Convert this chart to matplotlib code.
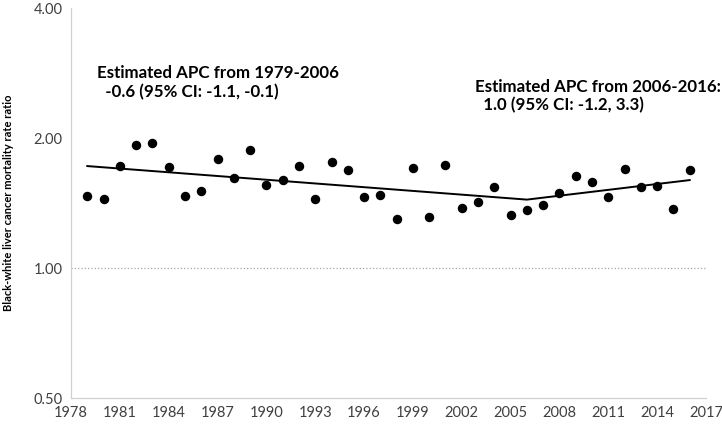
import matplotlib
matplotlib.use('Agg')
from matplotlib import pyplot as plt
from matplotlib.ticker import FixedLocator, NullLocator

years = list(range(1979, 2017))
ratios = [1.468, 1.448, 1.726, 1.925, 1.951, 1.713, 1.468, 1.511, 1.790, 1.619,
          1.875, 1.560, 1.601, 1.722, 1.448, 1.762, 1.683, 1.460, 1.479, 1.297,
          1.701, 1.311, 1.734, 1.378, 1.420, 1.540, 1.327, 1.359, 1.398, 1.490,
          1.630, 1.581, 1.460, 1.692, 1.540, 1.551, 1.368, 1.683]

# joinpoint fitted trend
joint_years = [1979, 2006, 2016]
joint_values = [1.722, 1.440, 1.598]

x_ticks = list(range(1978, 2018, 3))
y_ticks = [0.5, 1.0, 2.0, 4.0]

plt.rcParams['font.family'] = ['Lato', 'DejaVu Sans']

fig = plt.figure(figsize=(7.22, 4.24), dpi=100)
ax = fig.add_axes((71 / 722, 26 / 424, 635 / 722, 390 / 424))

ax.set_yscale('log', base=2)
ax.set_ylim(0.5, 4.0)
ax.set_xlim(1978, 2017)

ax.axhline(1.0, color='#a6a6a6', linestyle=':', linewidth=0.9, zorder=1)

ax.plot(joint_years, joint_values, color='black', linewidth=1.4, zorder=2)
ax.plot(years, ratios, 'o', color='black', markersize=5.8, zorder=3)

ax.yaxis.set_major_locator(FixedLocator(y_ticks))
ax.yaxis.set_minor_locator(NullLocator())
ax.set_yticklabels([f'{v:.2f}' for v in y_ticks])
ax.set_xticks(x_ticks)
ax.tick_params(axis='both', length=0, labelsize=10.5, colors='#404040', pad=6)

for side in ['top', 'right']:
    ax.spines[side].set_visible(False)
for side in ['left', 'bottom']:
    ax.spines[side].set_color('#d0d0d0')
    ax.spines[side].set_linewidth(0.9)

ax.set_ylabel('Black-white liver cancer mortality rate ratio', fontsize=8,
              fontweight='bold', labelpad=14)

ax.text(1979.6, 2.69, 'Estimated APC from 1979-2006\n  -0.6 (95% CI: -1.1, -0.1)',
        fontsize=12.2, fontweight='bold', va='center', ha='left', linespacing=1.2)
ax.text(2002.8, 2.50, 'Estimated APC from 2006-2016:\n  1.0 (95% CI: -1.2, 3.3)',
        fontsize=12.2, fontweight='bold', va='center', ha='left', linespacing=1.2)

fig.savefig('out.png')
